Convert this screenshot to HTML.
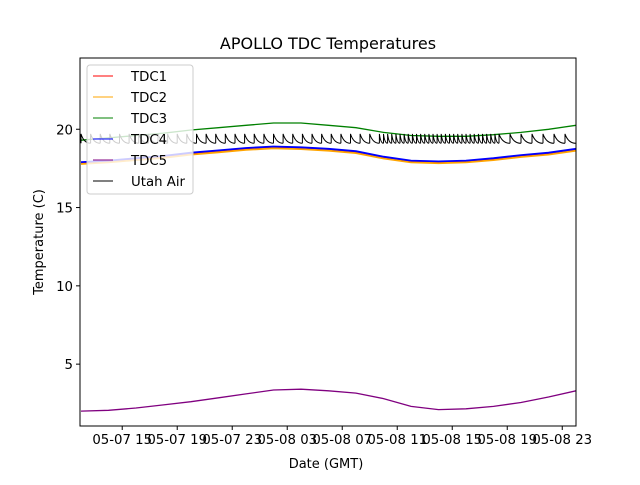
<!DOCTYPE html>
<html><head><meta charset="utf-8"><style>
body{margin:0;background:#fff;}
svg text{font-family:"DejaVu Sans","Liberation Sans",sans-serif;}
</style></head><body>
<svg id="chart" width="640" height="480" xmlns="http://www.w3.org/2000/svg">
<rect width="640" height="480" fill="#fff"/>
<text x="328" y="49" font-size="16" text-anchor="middle">APOLLO TDC Temperatures</text>
<g id="series"></g>
<rect x="80" y="58" width="496" height="368" fill="none" stroke="#000" stroke-width="1"/>
<g id="axes"></g>
<text x="326" y="468" font-size="13" text-anchor="middle">Date (GMT)</text>
<text transform="translate(43,242) rotate(-90)" font-size="13" text-anchor="middle">Temperature (C)</text>
<g id="legend"></g>
</svg>
<script>
const hours = [-3,-1,1,3,5,7,9,11,13,15,17,19,21,23,25,27,29,31,33];
const tdc3 = [19.3,19.45,19.6,19.75,19.95,20.1,20.25,20.4,20.4,20.25,20.1,19.8,19.6,19.55,19.55,19.65,19.8,20.0,20.25];
const tdc4 = [17.9,18.0,18.15,18.3,18.5,18.65,18.8,18.9,18.85,18.75,18.6,18.25,18.0,17.95,18.0,18.15,18.35,18.5,18.75];
const tdc1 = [17.86,17.96,18.1,18.25,18.45,18.6,18.75,18.85,18.8,18.7,18.55,18.2,17.95,17.9,17.95,18.1,18.3,18.45,18.7];
const tdc2 = [17.78,17.88,18.03,18.18,18.38,18.53,18.68,18.78,18.73,18.63,18.48,18.13,17.88,17.83,17.88,18.03,18.23,18.38,18.63];
const tdc5 = [2.0,2.05,2.2,2.4,2.6,2.85,3.1,3.35,3.4,3.3,3.15,2.8,2.3,2.1,2.15,2.3,2.55,2.9,3.3];
const utahResets = [-3.0,-2.3,-1.6,-0.9,-0.2,0.5,1.2,1.9,2.6,3.3,4.0,4.7,5.4,6.1,6.8,7.5,8.2,8.9,9.6,10.3,11.0,11.7,12.4,13.1,13.8,14.5,15.2,15.9,16.6,17.3,18.0,18.7,19.0,19.3,19.6,19.9,20.2,20.5,20.8,21.1,21.4,21.7,22.0,22.3,22.6,22.9,23.2,23.5,23.8,24.1,24.4,24.7,25.0,25.3,25.6,25.9,26.2,26.5,26.8,27.1,27.4,28.2,29.0,29.8,30.6,31.4,32.2,33.0];
const utahHigh = 19.7, utahLow = 19.1;
const xTickLabels = ["05-07 15","05-07 19","05-07 23","05-08 03","05-08 07","05-08 11","05-08 15","05-08 19","05-08 23"];
const xTickHours = [0,4,8,12,16,20,24,28,32];
const yTicks = [5,10,15,20];
const legendLabels = ["TDC1","TDC2","TDC3","TDC4","TDC5","Utah Air"];
const legendColors = ["red","orange","green","blue","purple","black"];

const NS="http://www.w3.org/2000/svg";
const X0=80,X1=576,Y0=58,Y1=426, tMin=-3.07, tMax=33.0, vMin=1.05, vMax=24.55;
function xs(t){return X0+(t-tMin)/(tMax-tMin)*(X1-X0);}
function ys(v){return Y1-(v-vMin)/(vMax-vMin)*(Y1-Y0);}
function mk(tag,attrs,parent){const e=document.createElementNS(NS,tag);for(const k in attrs)e.setAttribute(k,attrs[k]);parent.appendChild(e);return e;}
const sg=document.getElementById('series');
const clip=mk('clipPath',{id:'pc'},sg);mk('rect',{x:X0,y:Y0,width:X1-X0,height:Y1-Y0},clip);
function smoothPath(arr){let d='';for(let i=0;i<hours.length;i++){d+=(i?'L':'M')+xs(hours[i]).toFixed(1)+','+ys(arr[i]).toFixed(1);}return d;}
const lines=[[tdc1,'red','tdc1-line',1.6],[tdc2,'orange','tdc2-line',1.8],[tdc3,'green','tdc3-line',1.3],[tdc4,'blue','tdc4-line',1.8],[tdc5,'purple','tdc5-line',1.3]];
lines.forEach(([a,c,n,w])=>{
 const p=mk('path',{d:smoothPath(a),fill:'none',stroke:c,'stroke-width':w,'clip-path':'url(#pc)'},sg);
 
 
});
let d='';
for(let i=0;i<utahResets.length-1;i++){
 const a=xs(utahResets[i]),b=xs(utahResets[i+1]);
 d+='M'+a.toFixed(1)+','+ys(utahLow).toFixed(1)+'L'+a.toFixed(1)+','+ys(utahHigh).toFixed(1)+'Q'+(a+(b-a)*0.3).toFixed(1)+','+ys(utahLow).toFixed(1)+' '+b.toFixed(1)+','+ys(utahLow).toFixed(1);
}
const up=mk('path',{d:d,fill:'none',stroke:'black','stroke-width':1,'clip-path':'url(#pc)'},sg);



const ax=document.getElementById('axes');
xTickHours.forEach((h,i)=>{
 const x=xs(h);
 const t=mk('line',{x1:x,x2:x,y1:Y1,y2:Y1+4,stroke:'#000'},ax);
 
 
 const l=mk('text',{x:x,y:Y1+18,'font-size':13.3,'text-anchor':'middle'},ax);
 l.textContent=xTickLabels[i];
 
 
});
yTicks.forEach(v=>{
 const y=ys(v);
 const t=mk('line',{x1:X0-4,x2:X0,y1:y,y2:y,stroke:'#000'},ax);
 
 
 const l=mk('text',{x:X0-7,y:y+5,'font-size':13.3,'text-anchor':'end'},ax);
 l.textContent=v;
 
 
});
const lg=document.getElementById('legend');
mk('rect',{x:87,y:65,width:106,height:129,rx:3,fill:'#fff','fill-opacity':0.8,stroke:'#ccc'},lg);
legendLabels.forEach((lab,i)=>{
 const y=76+i*21;
 const g=mk('g',{},lg);
 
 
 mk('line',{x1:93,x2:113,y1:y,y2:y,stroke:legendColors[i],'stroke-width':1},g);
 const t=mk('text',{x:131,y:y+5,'font-size':13.3},g);
 t.textContent=lab;
});
</script>
</body></html>
